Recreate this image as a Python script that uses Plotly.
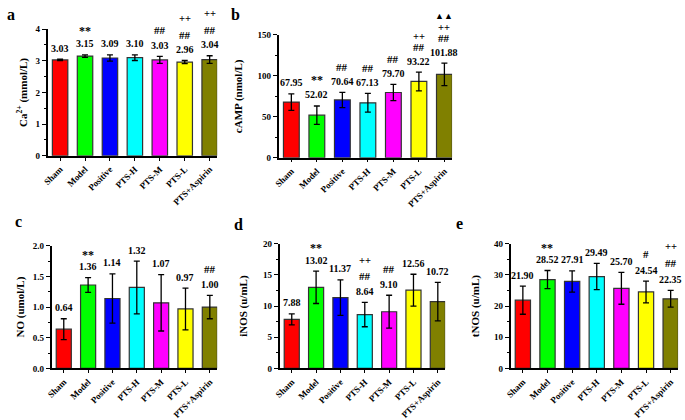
import plotly.graph_objects as go

categories = ["Sham", "Model", "Positive", "PTS-H", "PTS-M", "PTS-L", "PTS+Aspirin"]
bar_colors = ["#FF0000", "#00FF00", "#0000FF", "#00FFFF", "#FF00FF", "#FFFF00", "#808000"]

# Panel a: Ca2+
ca_values = [3.03, 3.15, 3.09, 3.10, 3.03, 2.96, 3.04]
ca_err = [0.02, 0.04, 0.10, 0.09, 0.11, 0.05, 0.12]
ca_marks = [[], ["**"], [], [], ["##"], ["##", "++"], ["##", "++"]]

# Panel b: cAMP
camp_values = [67.95, 52.02, 70.64, 67.13, 79.70, 93.22, 101.88]
camp_err = [10.0, 11.2, 9.3, 11.5, 9.9, 11.5, 13.7]
camp_marks = [[], ["**"], ["##"], ["##"], ["##"], ["##", "++"], ["##", "++", "▲▲"]]

# Panel c: NO
no_values = [0.64, 1.36, 1.14, 1.32, 1.07, 0.97, 1.00]
no_err = [0.17, 0.12, 0.40, 0.43, 0.46, 0.34, 0.19]
no_marks = [[], ["**"], [], [], [], [], ["##"]]

# Panel d: iNOS
inos_values = [7.88, 13.02, 11.37, 8.64, 9.10, 12.56, 10.72]
inos_err = [0.88, 2.6, 2.85, 1.95, 2.64, 2.55, 3.1]
inos_marks = [[], ["**"], [], ["##", "++"], ["##"], [], []]

# Panel e: tNOS
tnos_values = [21.90, 28.52, 27.91, 29.49, 25.70, 24.54, 22.35]
tnos_err = [4.5, 2.9, 3.4, 4.2, 5.1, 3.5, 2.7]
tnos_marks = [[], ["**"], [], [], [], ["#"], ["##", "++"]]

value_labels = {
    "a": ["3.03", "3.15", "3.09", "3.10", "3.03", "2.96", "3.04"],
    "b": ["67.95", "52.02", "70.64", "67.13", "79.70", "93.22", "101.88"],
    "c": ["0.64", "1.36", "1.14", "1.32", "1.07", "0.97", "1.00"],
    "d": ["7.88", "13.02", "11.37", "8.64", "9.10", "12.56", "10.72"],
    "e": ["21.90", "28.52", "27.91", "29.49", "25.70", "24.54", "22.35"],
}

W, H = 685, 420
FONT = "Liberation Serif, Times New Roman, serif"

panels = [
    dict(letter="a", vals=ca_values, err=ca_err, marks=ca_marks,
         title="Ca<sup>2+</sup> (mmol/L)", yrange=[0, 4], dtick=1, fmt="", standoff=6,
         px=(42, 213), py=(25, 156), first=15, step=16, star=13, letter_pos=(5, 10)),
    dict(letter="b", vals=camp_values, err=camp_err, marks=camp_marks,
         title="cAMP (nmol/L)", yrange=[0, 150], dtick=50, fmt="", standoff=13,
         px=(275, 450), py=(31, 158), first=14, step=11, star=15, letter_pos=(232, 10)),
    dict(letter="c", vals=no_values, err=no_err, marks=no_marks,
         title="NO (umol/L)", yrange=[0, 2], dtick=0.5, fmt=".1f", standoff=6,
         px=(46, 213), py=(249, 376), first=15, step=16, star=12, letter_pos=(13, 224)),
    dict(letter="d", vals=inos_values, err=inos_err, marks=inos_marks,
         title="iNOS (u/mL)", yrange=[0, 20], dtick=5, fmt="", standoff=13,
         px=(276, 443), py=(247, 376), first=15, step=16, star=12, letter_pos=(235, 227)),
    dict(letter="e", vals=tnos_values, err=tnos_err, marks=tnos_marks,
         title="tNOS (u/mL)", yrange=[0, 40], dtick=10, fmt="", standoff=12,
         px=(509, 678), py=(247, 376), first=16, step=17, star=12, letter_pos=(458, 226)),
]

mark_sizes = {"**": 12, "##": 11, "++": 10.5, "#": 11, "▲▲": 9}
LABEL_SHIFT = 11

fig = go.Figure()
layout = {}
annotations = []

for i, p in enumerate(panels, start=1):
    xname = "x" if i == 1 else f"x{i}"
    yname = "y" if i == 1 else f"y{i}"
    xkey = "xaxis" if i == 1 else f"xaxis{i}"
    ykey = "yaxis" if i == 1 else f"yaxis{i}"

    fig.add_trace(go.Bar(
        x=categories, y=p["vals"], width=0.62,
        marker=dict(color=bar_colors, line=dict(color="#333333", width=1.2)),
        error_y=dict(type="data", array=p["err"], color="black", thickness=1.3, width=3),
        xaxis=xname, yaxis=yname, showlegend=False, hoverinfo="skip",
    ))

    xd = [p["px"][0] / W, p["px"][1] / W]
    yd = [1 - p["py"][1] / H, 1 - p["py"][0] / H]
    layout[xkey] = dict(
        domain=xd, anchor=yname, type="category", range=[-0.5, 6.3],
        showline=True, linecolor="black", linewidth=1.5, mirror=False,
        ticks="outside", ticklen=3, tickwidth=1, tickcolor="black",
        tickangle=-45, showgrid=False, zeroline=False,
        tickfont=dict(family=FONT, size=9, color="black", weight="bold"),
        fixedrange=True,
    )
    layout[ykey] = dict(
        domain=yd, anchor=xname, range=p["yrange"], dtick=p["dtick"], tick0=0,
        tickformat=p["fmt"],
        showline=True, linecolor="black", linewidth=1.5,
        ticks="outside", ticklen=4, tickwidth=1, tickcolor="black",
        minor=dict(ticks="outside", ticklen=2, dtick=p["dtick"] / 2, tickcolor="black", tickwidth=1),
        showgrid=False, zeroline=False,
        tickfont=dict(family=FONT, size=9, color="black", weight="bold"),
        title=dict(text=p["title"], standoff=p["standoff"],
                   font=dict(family=FONT, size=11, color="black", weight="bold")),
        fixedrange=True,
    )

    labels = value_labels[p["letter"]]
    for j, cat in enumerate(categories):
        top = p["vals"][j] + p["err"][j]
        annotations.append(dict(
            x=cat, y=top, xref=xname, yref=yname, text=labels[j],
            showarrow=False, yanchor="middle", yshift=LABEL_SHIFT,
            font=dict(family=FONT, size=10, color="black", weight="bold"),
        ))
        for k, m in enumerate(p["marks"][j]):
            if m == "**":
                off = LABEL_SHIFT + p["star"]
            else:
                off = LABEL_SHIFT + p["first"] + k * p["step"]
            annotations.append(dict(
                x=cat, y=top, xref=xname, yref=yname, text=m,
                showarrow=False, yanchor="middle", yshift=off,
                font=dict(family=FONT, size=mark_sizes[m], color="black", weight="bold"),
            ))

    lx, ly = p["letter_pos"]
    annotations.append(dict(
        x=lx / W, y=1 - ly / H, xref="paper", yref="paper", text=p["letter"],
        showarrow=False, xanchor="center", yanchor="middle",
        font=dict(family=FONT, size=16, color="black", weight="bold"),
    ))

fig.update_layout(
    width=W, height=H, autosize=False,
    margin=dict(l=0, r=0, t=0, b=0),
    paper_bgcolor="white", plot_bgcolor="white",
    bargap=0.38,
    annotations=annotations,
    **layout,
)

fig.write_html("out.html", config={"displayModeBar": False},
               post_script="document.body.style.margin='0px';")
